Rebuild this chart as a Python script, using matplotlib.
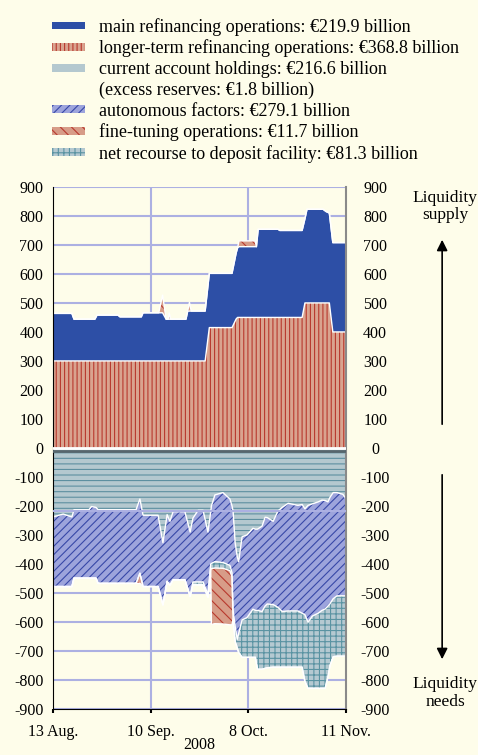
import numpy as np
import matplotlib
matplotlib.use("Agg")
import matplotlib.pyplot as plt
from matplotlib.patches import Patch

plt.rcParams['font.family'] = ['Liberation Serif', 'DejaVu Serif']
plt.rcParams['hatch.linewidth'] = 0.8

# x positions: trading-day index, axis from 13 Aug. (0) to 11 Nov. (84)
tick_pos = [0, 28, 56, 84]
tick_labels = ["13 Aug.", "10 Sep.", "8 Oct.", "11 Nov."]

# liquidity supply (EUR billions)
t_up = [0, 5.4, 6.0, 12.0, 12.6, 18.6, 19.2, 25.3, 25.8, 30.3, 31.4, 32.4, 33.0,
        33.3, 33.7, 38.1, 38.6, 39.1, 39.6, 43.6, 44.8, 51.3, 52.5, 52.9, 53.3,
        57.9, 58.3, 58.8, 64.5, 65.0, 71.4, 72.2, 72.8, 77.4, 78.3, 79.2, 80.2, 84]
ltro = [300, 300, 300, 300, 300, 300, 300, 300, 300, 300, 300, 300, 300,
        300, 300, 300, 300, 300, 300, 300, 415, 415, 445, 450, 450,
        450, 450, 450, 450, 450, 450, 500, 500, 500, 500, 500, 400, 400]
mro = [164, 164, 144, 144, 158, 158, 152, 152, 166, 166, 166, 144, 144,
       144, 144, 144, 172, 172, 172, 172, 187, 187, 228, 240, 244,
       244, 244, 304, 304, 300, 300, 290, 323, 323, 315, 310, 308, 308]
ft_up = [0, 0, 0, 0, 0, 0, 0, 0, 0, 0, 61, 0, 0,
         21, 0, 0, 0, 30, 0, 0, 0, 0, 0, 0, 20,
         20, 0, 0, 0, 0, 0, 0, 0, 0, 0, 0, 0, 0]

# liquidity needs (EUR billions)
t_lo = [0, 2.9, 5.4, 6.0, 10.3, 11.0, 12.3, 12.9, 23.8, 24.9, 25.8, 30.1, 31.5,
        32.7, 33.5, 34.4, 37.8, 39.3, 40.1, 41.6, 43.0, 44.4, 45.2, 45.4, 46.4,
        48.7, 50.7, 51.3, 51.6, 52.2, 52.8, 53.2, 54.2, 55.6, 57.3, 58.0, 58.6,
        59.9, 60.8, 61.4, 63.1, 64.5, 65.7, 67.4, 70.2, 71.4, 72.2, 73.1, 74.3,
        76.0, 77.1, 78.0, 78.8, 79.4, 80.3, 81.4, 83.1, 84]
cur_acc = [238, 228, 238, 213, 213, 202, 205, 213, 213, 176, 232, 232, 327,
           230, 253, 220, 220, 290, 242, 215, 215, 290, 220, 200, 162,
           154, 176, 200, 217, 327, 375, 392, 306, 300, 277, 280, 280,
           270, 239, 240, 253, 217, 205, 191, 198, 195, 210, 198, 193,
           186, 180, 181, 186, 170, 154, 154, 160, 176]
auton = [240, 250, 240, 236, 236, 247, 244, 254, 254, 256, 246, 246, 214,
         230, 221, 235, 235, 222, 220, 247, 247, 215, 180, 198, 230,
         241, 229, 230, 343, 289, 285, 248, 287, 285, 279, 280, 280,
         294, 306, 298, 287, 333, 359, 371, 364, 375, 365, 403, 387,
         384, 380, 374, 359, 367, 366, 356, 350, 334]
deposit = [0, 0, 0, 0, 0, 0, 0, 0, 0, 0, 0, 0, 0,
           0, 0, 0, 0, 0, 10, 10, 10, 10, 15, 18, 22,
           20, 18, 15, 30, 50, 30, 65, 129, 137, 166, 162, 203,
           199, 215, 220, 216, 206, 192, 194, 194, 186, 230, 228, 249,
           259, 269, 274, 245, 213, 200, 208, 208, 208]
ft_lo = [0, 0, 0, 0, 0, 0, 0, 0, 0, 35, 0, 0, 0,
         0, 0, 0, 0, 0, 0, 0, 0, 0, 0, 192, 192,
         192, 187, 165, 0, 0, 0, 0, 0, 0, 0, 0, 0,
         0, 0, 0, 0, 0, 0, 0, 0, 0, 0, 0, 0,
         0, 0, 0, 0, 0, 0, 0, 0, 0]
reserve_req = 216

labels = ["main refinancing operations: €219.9 billion",
          "longer-term refinancing operations: €368.8 billion",
          "current account holdings: €216.6 billion",
          "(excess reserves: €1.8 billion)",
          "autonomous factors: €279.1 billion",
          "fine-tuning operations: €11.7 billion",
          "net recourse to deposit facility: €81.3 billion"]

bg = '#fefdea'
c_blue = '#2d4fa6'
c_ltro, h_ltro = '#d9a38f', '#b8392e'
c_ca, h_ca = '#b4c8cf', '#5d8fa0'
c_af, h_af = '#9da4dc', '#3848a8'
c_ft, h_ft = '#d79c88', '#b8392e'
c_df, h_df = '#b5c9d1', '#5a93a2'
c_grid = '#acb0e2'

t_up = np.array(t_up)
t_lo = np.array(t_lo)
lt_top = np.array(ltro)
mro_top = lt_top + np.array(mro)
ftu_top = mro_top + np.array(ft_up)
ca_bot = -np.array(cur_acc)
af_bot = ca_bot - np.array(auton)
df_bot = af_bot - np.array(deposit)
ft_bot = df_bot - np.array(ft_lo)

fig = plt.figure(figsize=(4.78, 7.55), dpi=100, facecolor=bg)
ax = fig.add_axes([0.111, 0.061, 0.613, 0.6914], facecolor=bg)

ax.set_xlim(0, 84)
ax.set_ylim(-900, 900)
for y in range(-900, 901, 100):
    ax.axhline(y, color=c_grid, lw=1.5, zorder=0)
for x in tick_pos[1:3]:
    ax.axvline(x, color=c_grid, lw=1.5, zorder=0)

# supply
ax.fill_between(t_up, 0, lt_top, facecolor=c_ltro, edgecolor=h_ltro, hatch='||||', lw=0, zorder=1)
ax.fill_between(t_up, lt_top, mro_top, facecolor=c_blue, lw=0, zorder=1)
ax.fill_between(t_up, mro_top, ftu_top, facecolor=c_ft,
                edgecolor=h_ft, hatch='\\\\\\', lw=0, zorder=1)
for top in (lt_top, mro_top, ftu_top):
    ax.plot(t_up, top, color='white', lw=1.0, zorder=2)

# needs
ax.fill_between(t_lo, 0, ca_bot, facecolor=c_ca, edgecolor=h_ca, hatch='---', lw=0, zorder=1)
ax.fill_between(t_lo, ca_bot, af_bot, facecolor=c_af, edgecolor=h_af, hatch='////', lw=0, zorder=1)
ax.fill_between(t_lo, af_bot, df_bot, facecolor=c_df, edgecolor=h_df, hatch='+++', lw=0, zorder=1)
ax.fill_between(t_lo, df_bot, ft_bot, facecolor=c_ft, edgecolor=h_ft, hatch='\\\\\\', lw=0, zorder=1)
for bot in (ca_bot, af_bot, df_bot, ft_bot):
    ax.plot(t_lo, bot, color='white', lw=1.0, zorder=2)
ax.axhline(-reserve_req, color=c_grid, lw=1.5, zorder=3)
ax.axhline(0, color='white', lw=2, zorder=3)
ax.axhline(-9, color='#56666d', lw=2, zorder=3)

ax.spines['top'].set_visible(False)
ax.spines['left'].set_color('black')
ax.spines['bottom'].set_color('black')
ax.spines['right'].set_color('#8a8a8a')
ax.spines['right'].set_linewidth(1.5)

yt = list(range(-900, 901, 100))
ax.set_yticks(yt)
ax.set_yticklabels([str(v) for v in yt])
ax.tick_params(axis='y', length=0, pad=7, labelsize=11.5)
ax.set_xticks(tick_pos)
ax.set_xticklabels(tick_labels)
ax.tick_params(axis='x', length=3, width=1.5, pad=8, labelsize=11.5, direction='out')
ax.set_xlabel('2008', fontsize=11.5, labelpad=-2)

ax2 = ax.twinx()
ax2.set_ylim(-900, 900)
ax2.set_yticks(yt)
ax2.set_yticklabels([str(v) for v in yt])
ax2.tick_params(axis='y', length=0, pad=21, labelsize=11.5)
for lab in ax2.get_yticklabels():
    lab.set_horizontalalignment('center')
for s in ax2.spines.values():
    s.set_visible(False)

handles = [Patch(facecolor=c_blue, lw=0),
           Patch(facecolor=c_ltro, edgecolor=h_ltro, hatch='||||', lw=0),
           Patch(facecolor=c_ca, edgecolor=h_ca, hatch='-', lw=0),
           Patch(facecolor='none', lw=0),
           Patch(facecolor=c_af, edgecolor=h_af, hatch='////', lw=0),
           Patch(facecolor=c_ft, edgecolor=h_ft, hatch='\\\\\\', lw=0),
           Patch(facecolor=c_df, edgecolor=h_df, hatch='+++', lw=0)]
fig.legend(handles, labels, loc='upper left', bbox_to_anchor=(0.108, 0.976),
           frameon=False, fontsize=13, handlelength=1.85, handleheight=0.3,
           handletextpad=0.8, labelspacing=0.2, borderpad=0, borderaxespad=0)

fig.text(0.931, 0.727, "Liquidity\nsupply", ha='center', va='center', fontsize=12.5, linespacing=1.1)
fig.text(0.931, 0.082, "Liquidity\nneeds", ha='center', va='center', fontsize=12.5, linespacing=1.1)
ax.annotate('', xy=(0.925, 1 - 237 / 755), xytext=(0.925, 1 - 427 / 755), xycoords='figure fraction',
            arrowprops=dict(arrowstyle='-|>', color='black', lw=1.2, mutation_scale=16))
ax.annotate('', xy=(0.925, 1 - 662 / 755), xytext=(0.925, 1 - 472 / 755), xycoords='figure fraction',
            arrowprops=dict(arrowstyle='-|>', color='black', lw=1.2, mutation_scale=16))

fig.savefig('out.png', dpi=100, facecolor=bg)
